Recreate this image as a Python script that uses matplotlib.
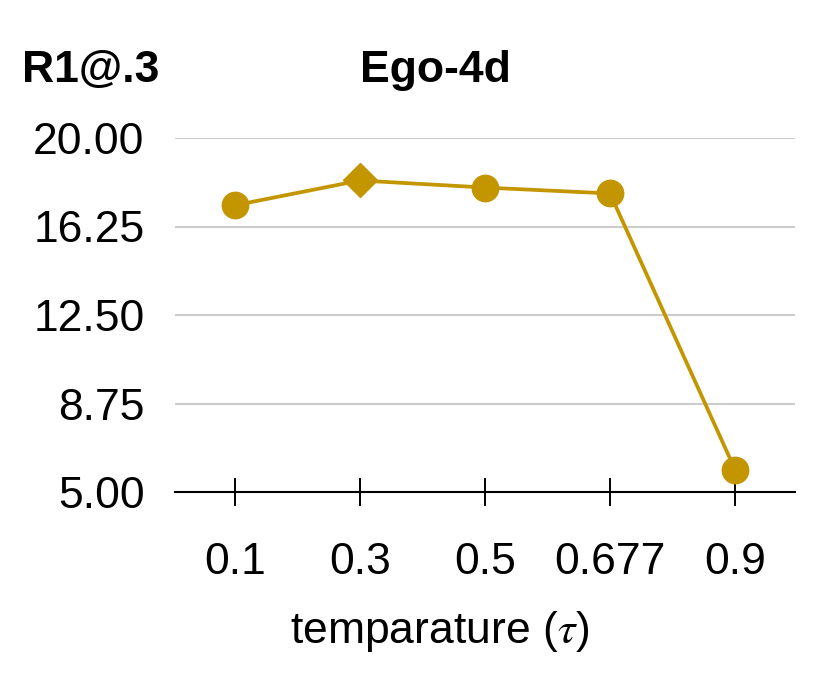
import matplotlib
matplotlib.use("Agg")
import matplotlib.pyplot as plt
import numpy as np

GOLD = "#C39600"
GRID = "#CCCCCC"

taus = ["0.1", "0.3", "0.5", "0.677", "0.9"]
r1_at_3 = [17.15, 18.2, 17.9, 17.65, 5.95]
best = 1
yticks = [5.00, 8.75, 12.50, 16.25, 20.00]

plt.rcParams["font.family"] = ["Liberation Sans", "DejaVu Sans"]
plt.rcParams["mathtext.fontset"] = "stix"

fig = plt.figure(figsize=(8.3, 6.75), dpi=100)
ax = fig.add_axes([175 / 830, 1 - 492 / 675, 620 / 830, (492 - 138) / 675])

x = np.arange(len(taus))
ax.plot(x, r1_at_3, color=GOLD, lw=2.7, zorder=3, clip_on=False)
others = [i for i in x if i != best]
ax.plot(x[others], np.array(r1_at_3)[others], "o", color=GOLD, ms=19,
        zorder=4, clip_on=False)
ax.plot([x[best]], [r1_at_3[best]], "D", color=GOLD, ms=17, zorder=4, clip_on=False)

ax.set_xlim(-0.48, len(taus) - 0.52)
ax.set_ylim(5, 20)
ax.set_yticks(yticks)
ax.set_yticklabels([f"{v:.2f}" for v in yticks])
ax.set_xticks(x)
ax.set_xticklabels(taus)

ax.grid(axis="y", color=GRID, lw=1.5)
ax.set_axisbelow(True)
for s in ["left", "right", "top"]:
    ax.spines[s].set_visible(False)
ax.spines["bottom"].set_linewidth(1.5)
ax.tick_params(axis="y", length=0, pad=22, labelsize=32)
ax.tick_params(axis="x", direction="inout", length=20, width=1.4, pad=26, labelsize=32)

fig.text(22 / 830, 1 - 82 / 675, "R1@.3", fontsize=32, fontweight="bold",
         ha="left", va="baseline")
fig.text(435 / 830, 1 - 82 / 675, "Ego-4d", fontsize=32, fontweight="bold",
         ha="center", va="baseline")
fig.text(440 / 830, 1 - 643 / 675, r"temparature ($\tau$)", fontsize=32,
         ha="center", va="baseline")

fig.savefig("out.png", dpi=100, facecolor="white")
